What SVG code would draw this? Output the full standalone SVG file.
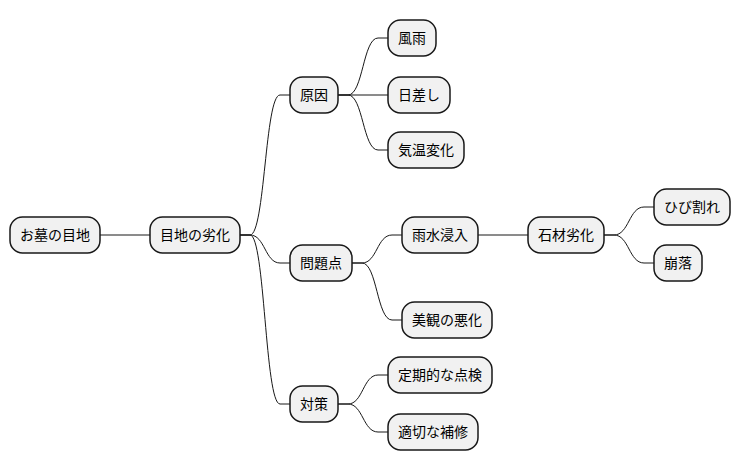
<svg xmlns="http://www.w3.org/2000/svg" width="740" height="471" viewBox="0 0 740 471">
<style>
.n rect{fill:#F1F1F1;stroke:#181818;stroke-width:1.5}
.n text{font-family:"Noto Sans CJK JP","Noto Sans",sans-serif;font-size:14px;fill:#000;text-anchor:middle}
#edges path{fill:none;stroke:#181818;stroke-width:1}
</style>
<rect width="740" height="471" fill="#FFFFFF"/>
<g id="edges">
<path d="M100 235 L150 235"/>
<path d="M240 235 L250 235 C265 235 265 95 280 95 L290 95"/>
<path d="M240 235 L250 235 C265 235 265 263 280 263 L290 263"/>
<path d="M240 235 L250 235 C265 235 265 404 280 404 L290 404"/>
<path d="M338 95 L348 95 C363 95 363 38 378 38 L388 38"/>
<path d="M338 95 L388 95"/>
<path d="M338 95 L348 95 C363 95 363 150 378 150 L388 150"/>
<path d="M352 263 L362 263 C377 263 377 235 392 235 L402 235"/>
<path d="M352 263 L362 263 C377 263 377 320 392 320 L402 320"/>
<path d="M478 235 L528 235"/>
<path d="M604 235 L614 235 C629 235 629 207 644 207 L654 207"/>
<path d="M604 235 L614 235 C629 235 629 263 644 263 L654 263"/>
<path d="M338 404 L348 404 C363 404 363 375 378 375 L388 375"/>
<path d="M338 404 L348 404 C363 404 363 432 378 432 L388 432"/>
</g>
<g id="n-root" class="n"><rect x="10" y="217" width="90" height="36" rx="12.5"/><text x="55" y="240">お墓の目地</text></g>
<g id="n-rekka" class="n"><rect x="150" y="217" width="90" height="36" rx="12.5"/><text x="195" y="240">目地の劣化</text></g>
<g id="n-genin" class="n"><rect x="290" y="77" width="48" height="36" rx="12.5"/><text x="314" y="100">原因</text></g>
<g id="n-mondai" class="n"><rect x="290" y="245" width="62" height="36" rx="12.5"/><text x="321" y="268">問題点</text></g>
<g id="n-taisaku" class="n"><rect x="290" y="386" width="48" height="36" rx="12.5"/><text x="314" y="409">対策</text></g>
<g id="n-fuu" class="n"><rect x="388" y="20" width="48" height="36" rx="12.5"/><text x="412" y="43">風雨</text></g>
<g id="n-hizashi" class="n"><rect x="388" y="77" width="62" height="36" rx="12.5"/><text x="419" y="100">日差し</text></g>
<g id="n-kion" class="n"><rect x="388" y="132" width="76" height="36" rx="12.5"/><text x="426" y="155">気温変化</text></g>
<g id="n-usui" class="n"><rect x="402" y="217" width="76" height="36" rx="12.5"/><text x="440" y="240">雨水浸入</text></g>
<g id="n-bikan" class="n"><rect x="402" y="302" width="90" height="36" rx="12.5"/><text x="447" y="325">美観の悪化</text></g>
<g id="n-sekizai" class="n"><rect x="528" y="217" width="76" height="36" rx="12.5"/><text x="566" y="240">石材劣化</text></g>
<g id="n-hibi" class="n"><rect x="654" y="189" width="76" height="36" rx="12.5"/><text x="692" y="212">ひび割れ</text></g>
<g id="n-houraku" class="n"><rect x="654" y="245" width="48" height="36" rx="12.5"/><text x="678" y="268">崩落</text></g>
<g id="n-tenken" class="n"><rect x="388" y="357" width="104" height="36" rx="12.5"/><text x="440" y="380">定期的な点検</text></g>
<g id="n-hoshu" class="n"><rect x="388" y="414" width="90" height="36" rx="12.5"/><text x="433" y="437">適切な補修</text></g>
</svg>
